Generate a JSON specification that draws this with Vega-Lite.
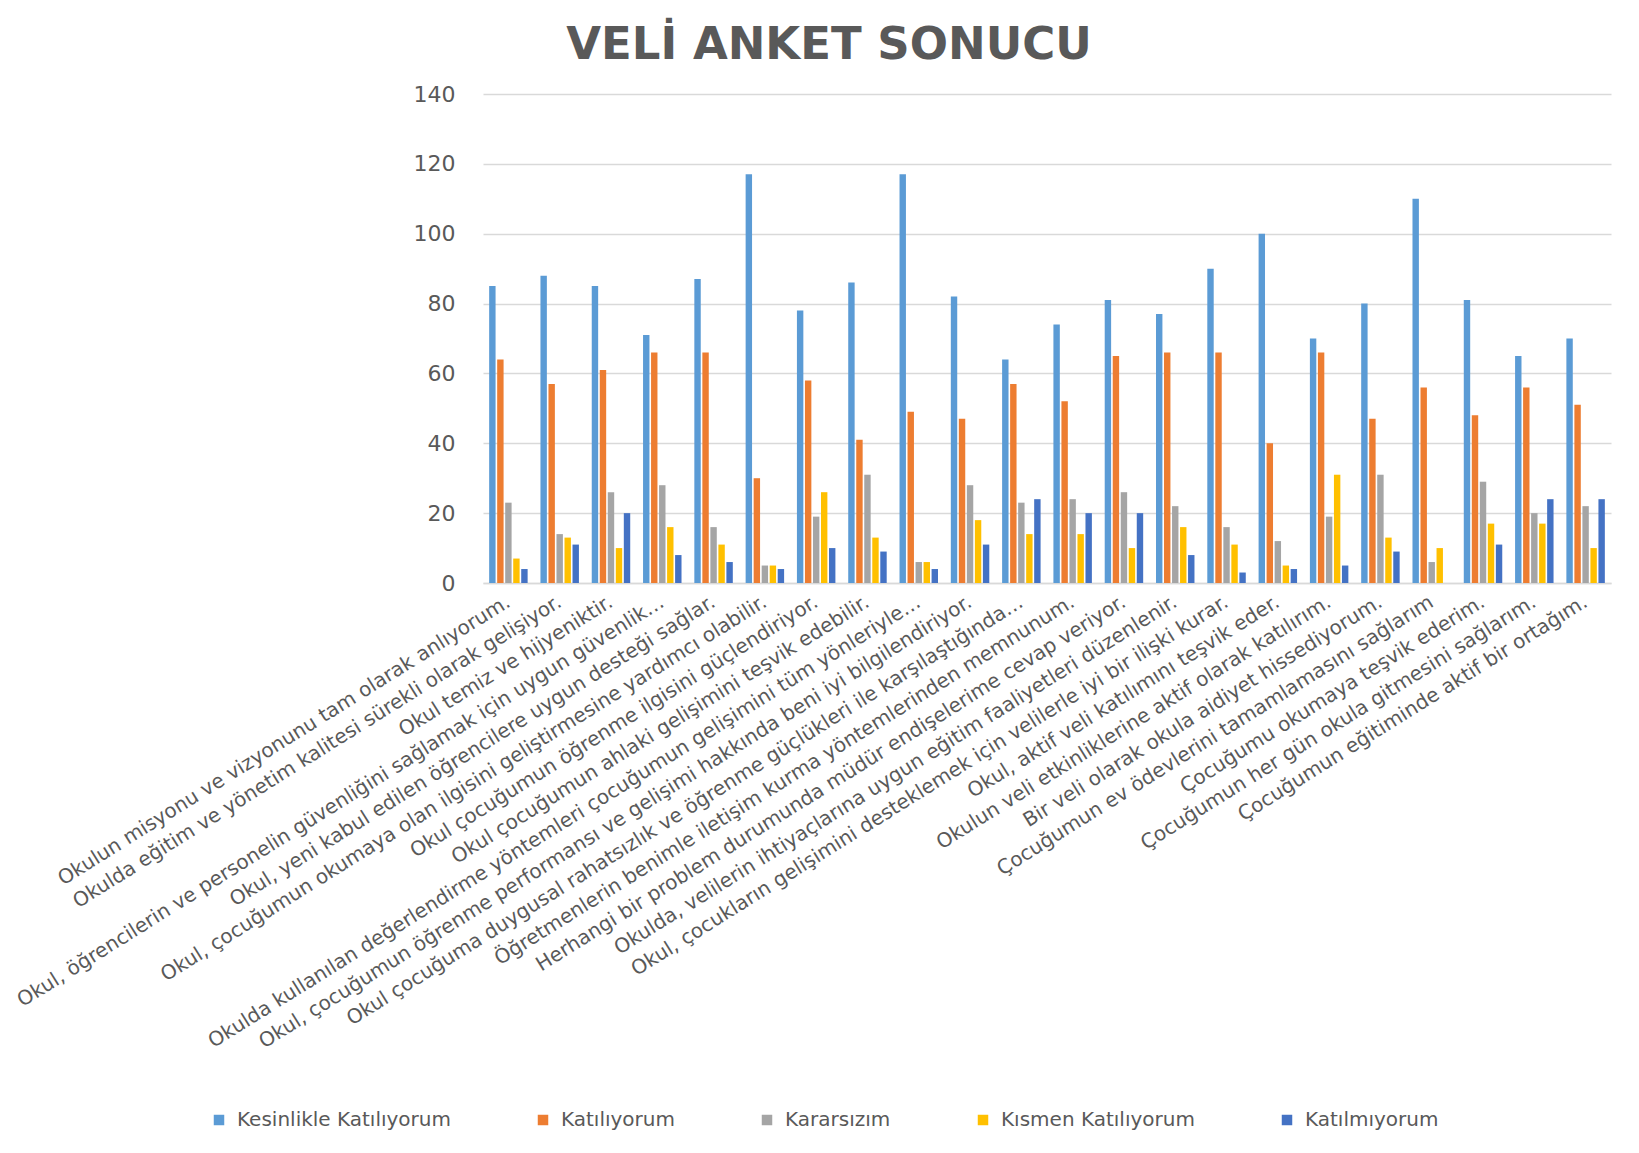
{
  "$schema": "https://vega.github.io/schema/vega-lite/v6.json",
  "width": 1128,
  "height": 489,
  "autosize": {"type": "none"},
  "padding": {"left": 483, "top": 94, "right": 28, "bottom": 570},
  "background": "white",
  "title": {
    "text": "VELİ ANKET SONUCU",
    "font": "DejaVu Sans",
    "fontSize": 45,
    "fontWeight": "bold",
    "color": "#595959",
    "anchor": "middle",
    "dx": -218,
    "offset": -21,
    "baseline": "alphabetic"
  },
  "data": {
    "values": [
      {"soru": "Okulun misyonu ve vizyonunu tam olarak anlıyorum.", "Kesinlikle Katılıyorum": 85, "Katılıyorum": 64, "Kararsızım": 23, "Kısmen Katılıyorum": 7, "Katılmıyorum": 4},
      {"soru": "Okulda eğitim ve yönetim kalitesi sürekli olarak gelişiyor.", "Kesinlikle Katılıyorum": 88, "Katılıyorum": 57, "Kararsızım": 14, "Kısmen Katılıyorum": 13, "Katılmıyorum": 11},
      {"soru": "Okul temiz ve hijyeniktir.", "Kesinlikle Katılıyorum": 85, "Katılıyorum": 61, "Kararsızım": 26, "Kısmen Katılıyorum": 10, "Katılmıyorum": 20},
      {"soru": "Okul, öğrencilerin ve personelin güvenliğini sağlamak için uygun güvenlik…", "Kesinlikle Katılıyorum": 71, "Katılıyorum": 66, "Kararsızım": 28, "Kısmen Katılıyorum": 16, "Katılmıyorum": 8},
      {"soru": "Okul, yeni kabul edilen öğrencilere uygun desteği sağlar.", "Kesinlikle Katılıyorum": 87, "Katılıyorum": 66, "Kararsızım": 16, "Kısmen Katılıyorum": 11, "Katılmıyorum": 6},
      {"soru": "Okul, çocuğumun okumaya olan ilgisini geliştirmesine yardımcı olabilir.", "Kesinlikle Katılıyorum": 117, "Katılıyorum": 30, "Kararsızım": 5, "Kısmen Katılıyorum": 5, "Katılmıyorum": 4},
      {"soru": "Okul çocuğumun öğrenme ilgisini güçlendiriyor.", "Kesinlikle Katılıyorum": 78, "Katılıyorum": 58, "Kararsızım": 19, "Kısmen Katılıyorum": 26, "Katılmıyorum": 10},
      {"soru": "Okul çocuğumun ahlaki gelişimini teşvik edebilir.", "Kesinlikle Katılıyorum": 86, "Katılıyorum": 41, "Kararsızım": 31, "Kısmen Katılıyorum": 13, "Katılmıyorum": 9},
      {"soru": "Okulda kullanılan değerlendirme yöntemleri çocuğumun gelişimini tüm yönleriyle…", "Kesinlikle Katılıyorum": 117, "Katılıyorum": 49, "Kararsızım": 6, "Kısmen Katılıyorum": 6, "Katılmıyorum": 4},
      {"soru": "Okul, çocuğumun öğrenme performansı ve gelişimi hakkında beni iyi bilgilendiriyor.", "Kesinlikle Katılıyorum": 82, "Katılıyorum": 47, "Kararsızım": 28, "Kısmen Katılıyorum": 18, "Katılmıyorum": 11},
      {"soru": "Okul çocuğuma duygusal rahatsızlık ve öğrenme güçlükleri ile karşılaştığında…", "Kesinlikle Katılıyorum": 64, "Katılıyorum": 57, "Kararsızım": 23, "Kısmen Katılıyorum": 14, "Katılmıyorum": 24},
      {"soru": "Öğretmenlerin benimle iletişim kurma yöntemlerinden memnunum.", "Kesinlikle Katılıyorum": 74, "Katılıyorum": 52, "Kararsızım": 24, "Kısmen Katılıyorum": 14, "Katılmıyorum": 20},
      {"soru": "Herhangi bir problem durumunda müdür endişelerime cevap veriyor.", "Kesinlikle Katılıyorum": 81, "Katılıyorum": 65, "Kararsızım": 26, "Kısmen Katılıyorum": 10, "Katılmıyorum": 20},
      {"soru": "Okulda, velilerin ihtiyaçlarına uygun eğitim faaliyetleri düzenlenir.", "Kesinlikle Katılıyorum": 77, "Katılıyorum": 66, "Kararsızım": 22, "Kısmen Katılıyorum": 16, "Katılmıyorum": 8},
      {"soru": "Okul, çocukların gelişimini desteklemek için velilerle iyi bir ilişki kurar.", "Kesinlikle Katılıyorum": 90, "Katılıyorum": 66, "Kararsızım": 16, "Kısmen Katılıyorum": 11, "Katılmıyorum": 3},
      {"soru": "Okul, aktif veli katılımını teşvik eder.", "Kesinlikle Katılıyorum": 100, "Katılıyorum": 40, "Kararsızım": 12, "Kısmen Katılıyorum": 5, "Katılmıyorum": 4},
      {"soru": "Okulun veli etkinliklerine aktif olarak katılırım.", "Kesinlikle Katılıyorum": 70, "Katılıyorum": 66, "Kararsızım": 19, "Kısmen Katılıyorum": 31, "Katılmıyorum": 5},
      {"soru": "Bir veli olarak okula aidiyet hissediyorum.", "Kesinlikle Katılıyorum": 80, "Katılıyorum": 47, "Kararsızım": 31, "Kısmen Katılıyorum": 13, "Katılmıyorum": 9},
      {"soru": "Çocuğumun ev ödevlerini tamamlamasını sağlarım", "Kesinlikle Katılıyorum": 110, "Katılıyorum": 56, "Kararsızım": 6, "Kısmen Katılıyorum": 10, "Katılmıyorum": 0},
      {"soru": "Çocuğumu okumaya teşvik ederim.", "Kesinlikle Katılıyorum": 81, "Katılıyorum": 48, "Kararsızım": 29, "Kısmen Katılıyorum": 17, "Katılmıyorum": 11},
      {"soru": "Çocuğumun her gün okula gitmesini sağlarım.", "Kesinlikle Katılıyorum": 65, "Katılıyorum": 56, "Kararsızım": 20, "Kısmen Katılıyorum": 17, "Katılmıyorum": 24},
      {"soru": "Çocuğumun eğitiminde aktif bir ortağım.", "Kesinlikle Katılıyorum": 70, "Katılıyorum": 51, "Kararsızım": 22, "Kısmen Katılıyorum": 10, "Katılmıyorum": 24}
    ]
  },
  "transform": [
    {"fold": ["Kesinlikle Katılıyorum", "Katılıyorum", "Kararsızım", "Kısmen Katılıyorum", "Katılmıyorum"], "as": ["seri", "deger"]}
  ],
  "mark": {"type": "bar"},
  "encoding": {
    "x": {
      "field": "soru",
      "type": "nominal",
      "sort": null,
      "scale": {"paddingInner": 0.25, "paddingOuter": 0.12},
      "axis": {
        "title": null,
        "labelAngle": -32,
        "labelAlign": "right",
        "labelBaseline": "middle",
        "labelFont": "DejaVu Sans",
        "labelFontSize": 20,
        "labelColor": "#595959",
        "labelLimit": 2000,
        "labelPadding": 17,
        "labelOverlap": false,
        "ticks": false,
        "domainColor": "#D9D9D9",
        "domainWidth": 1.5,
        "grid": false
      }
    },
    "xOffset": {
      "field": "seri",
      "type": "nominal",
      "sort": ["Kesinlikle Katılıyorum", "Katılıyorum", "Kararsızım", "Kısmen Katılıyorum", "Katılmıyorum"],
      "scale": {"paddingInner": 0.2, "paddingOuter": 0}
    },
    "y": {
      "field": "deger",
      "type": "quantitative",
      "scale": {"domain": [0, 140], "nice": false},
      "axis": {
        "title": null,
        "values": [0, 20, 40, 60, 80, 100, 120, 140],
        "labelFont": "DejaVu Sans",
        "labelFontSize": 22,
        "labelColor": "#595959",
        "labelPadding": 28,
        "domain": false,
        "ticks": false,
        "gridColor": "#D9D9D9",
        "gridWidth": 1.5
      }
    },
    "color": {
      "field": "seri",
      "type": "nominal",
      "scale": {
        "domain": ["Kesinlikle Katılıyorum", "Katılıyorum", "Kararsızım", "Kısmen Katılıyorum", "Katılmıyorum"],
        "range": ["#5B9BD5", "#ED7D31", "#A5A5A5", "#FFC000", "#4472C4"]
      },
      "legend": {
        "title": null,
        "orient": "none",
        "legendX": -274,
        "legendY": 1016,
        "direction": "horizontal",
        "symbolType": "square",
        "symbolSize": 110,
        "symbolStrokeWidth": 0,
        "labelFont": "DejaVu Sans",
        "labelFontSize": 20,
        "labelColor": "#595959",
        "labelOffset": 8,
        "labelLimit": 1000,
        "columnPadding": 82
      }
    }
  },
  "config": {
    "view": {"stroke": null}
  }
}
